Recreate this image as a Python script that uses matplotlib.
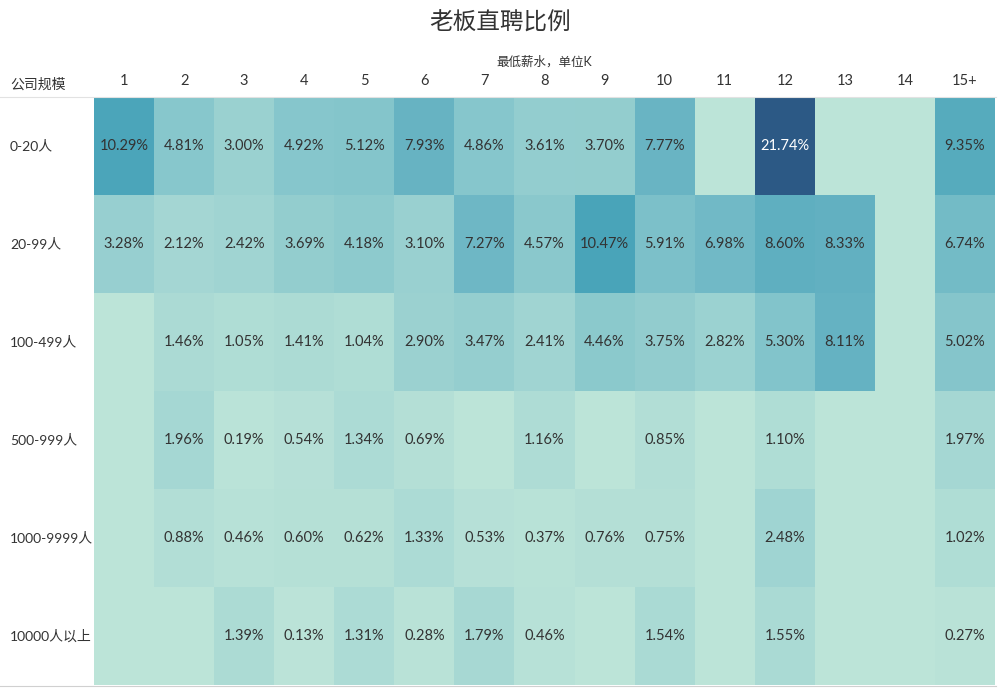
import numpy as np
import matplotlib
matplotlib.use('Agg')
import matplotlib.pyplot as plt
from matplotlib.colors import LinearSegmentedColormap, Normalize
from matplotlib.lines import Line2D

plt.rcParams['font.family'] = ['Lato', 'Noto Sans CJK SC', 'DejaVu Sans']

# data (percent), nan = no value
salary = ['1', '2', '3', '4', '5', '6', '7', '8', '9', '10', '11', '12', '13', '14', '15+']
company_size = ['0-20人', '20-99人', '100-499人', '500-999人', '1000-9999人', '10000人以上']
n = np.nan
row_0_20 = [10.29, 4.81, 3.00, 4.92, 5.12, 7.93, 4.86, 3.61, 3.70, 7.77, n, 21.74, n, n, 9.35]
row_20_99 = [3.28, 2.12, 2.42, 3.69, 4.18, 3.10, 7.27, 4.57, 10.47, 5.91, 6.98, 8.60, 8.33, n, 6.74]
row_100_499 = [n, 1.46, 1.05, 1.41, 1.04, 2.90, 3.47, 2.41, 4.46, 3.75, 2.82, 5.30, 8.11, n, 5.02]
row_500_999 = [n, 1.96, 0.19, 0.54, 1.34, 0.69, n, 1.16, n, 0.85, n, 1.10, n, n, 1.97]
row_1000_9999 = [n, 0.88, 0.46, 0.60, 0.62, 1.33, 0.53, 0.37, 0.76, 0.75, n, 2.48, n, n, 1.02]
row_10000 = [n, n, 1.39, 0.13, 1.31, 0.28, 1.79, 0.46, n, 1.54, n, 1.55, n, n, 0.27]

values = np.array([row_0_20, row_20_99, row_100_499, row_500_999, row_1000_9999, row_10000])

# tableau blue-teal
blue_teal = ['#bce4d8', '#aedcd5', '#a1d5d2', '#95cecf', '#89c8cc', '#7ec1ca', '#72bac6',
             '#66b2c2', '#59acbe', '#4ba5ba', '#419eb6', '#3b96b2', '#358ead', '#3586a7',
             '#347ea1', '#32779b', '#316f96', '#2f6790', '#2d608a', '#2c5985']
cmap = LinearSegmentedColormap.from_list('blue_teal', blue_teal)
cmap.set_bad('#bce4d8')
norm = Normalize(vmin=0, vmax=np.nanmax(values))

fig = plt.figure(figsize=(10, 6.91), dpi=100)
ax = fig.add_axes([0.094, 1 - 685 / 691, 0.901, (685 - 97) / 691])
ax.pcolormesh(np.ma.masked_invalid(values), cmap=cmap, norm=norm)
ax.set_xlim(0, len(salary))
ax.set_ylim(len(company_size), 0)
ax.axis('off')

for i in range(values.shape[0]):
    for j in range(values.shape[1]):
        v = values[i, j]
        if np.isnan(v):
            continue
        color = 'white' if norm(v) > 0.8 else '#333333'
        ax.text(j + 0.5, i + 0.5, f'{v:.2f}%', ha='center', va='center',
                fontsize=10.5, color=color)

# column headers
for j, lab in enumerate(salary):
    ax.text(j + 0.5, -0.09, lab, ha='center', va='bottom', fontsize=10.5, color='#333333')

# row labels
for i, lab in enumerate(company_size):
    fig.text(0.010, 1 - (97 + (i + 0.5) * 98) / 691, lab, ha='left', va='center',
             fontsize=10, color='#333333')

fig.text(0.010, 1 - 84 / 691, '公司规模', ha='left', va='center', fontsize=10, color='#333333')
fig.text(0.5445, 1 - 61 / 691, '最低薪水，单位K', ha='center', va='center', fontsize=9, color='#333333')
fig.text(0.5, 1 - 23 / 691, '老板直聘比例', ha='center', va='center', fontsize=17, color='#333333')

# header and bottom rules
fig.add_artist(Line2D([0, 0.996], [1 - 97 / 691] * 2, color='#e2e2e2', lw=0.8))
fig.add_artist(Line2D([0, 0.996], [1 - 686 / 691] * 2, color='#d0d0d0', lw=0.8))

fig.savefig('out.png', dpi=100)
